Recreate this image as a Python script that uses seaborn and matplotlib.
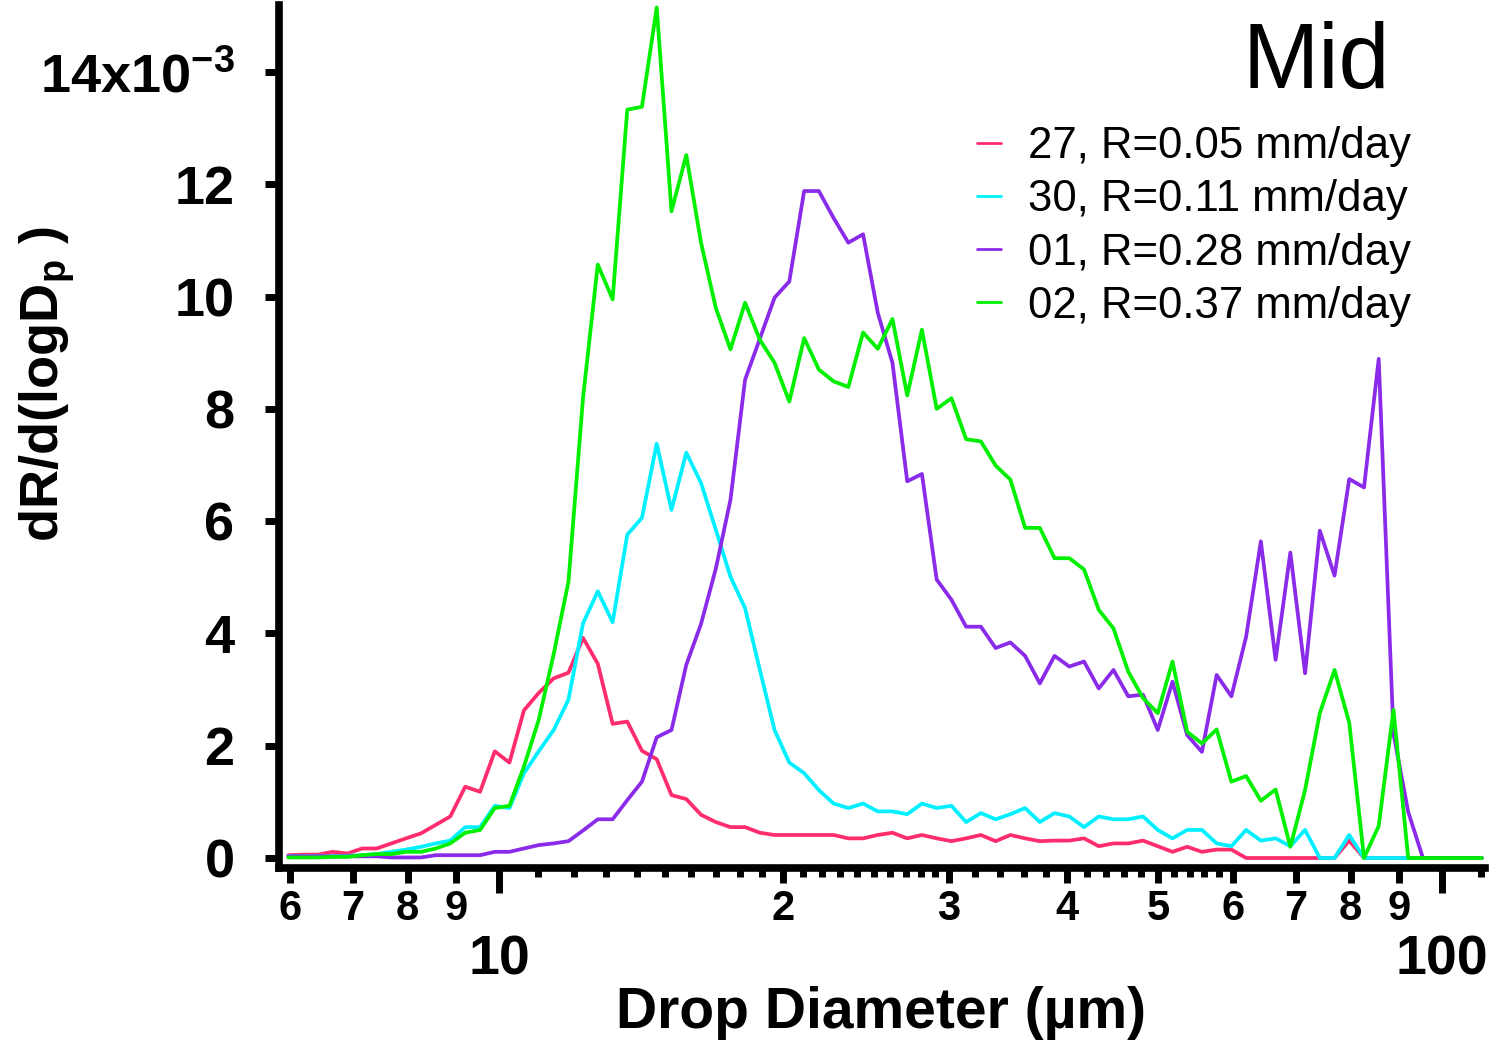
import numpy as np
import pandas as pd
import matplotlib
matplotlib.use("Agg")
import matplotlib.pyplot as plt
import seaborn as sns
from matplotlib.lines import Line2D
from matplotlib.ticker import FixedLocator, FixedFormatter, NullLocator

# ---------------- data (values in units of 1e-3) ----------------
diameter_um = [5.98, 6.20, 6.43, 6.66, 6.91, 7.16, 7.42, 7.69, 7.97, 8.27,
               8.57, 8.88, 9.21, 9.55, 9.90, 10.26, 10.63, 11.02, 11.43, 11.85,
               12.28, 12.73, 13.20, 13.68, 14.18, 14.70, 15.24, 15.80, 16.38, 16.98,
               17.60, 18.24, 18.91, 19.60, 20.32, 21.07, 21.84, 22.64, 23.47, 24.33,
               25.22, 26.14, 27.10, 28.09, 29.12, 30.19, 31.29, 32.44, 33.63, 34.86,
               36.14, 37.46, 38.83, 40.26, 41.73, 43.26, 44.84, 46.49, 48.19, 49.96,
               51.79, 53.68, 55.65, 57.69, 59.80, 61.99, 64.26, 66.62, 69.06, 71.59,
               74.21, 76.93, 79.74, 82.67, 85.69, 88.83, 92.09, 95.46, 98.96, 102.58,
               106.34, 110.24]

dR_27 = [0.05, 0.06, 0.06, 0.11, 0.08, 0.17, 0.17, 0.26, 0.35, 0.44,
         0.59, 0.74, 1.27, 1.18, 1.90, 1.70, 2.63, 2.94, 3.20, 3.30,
         3.92, 3.46, 2.39, 2.43, 1.91, 1.76, 1.12, 1.05, 0.77, 0.64,
         0.55, 0.55, 0.45, 0.41, 0.41, 0.41, 0.41, 0.41, 0.35, 0.35,
         0.41, 0.45, 0.35, 0.41, 0.35, 0.30, 0.35, 0.41, 0.30, 0.41,
         0.35, 0.30, 0.31, 0.31, 0.35, 0.21, 0.26, 0.26, 0.31, 0.21,
         0.11, 0.20, 0.11, 0.15, 0.15, 0.0, 0.0, 0.0, 0.0, 0.0,
         0.0, 0.0, 0.31, 0.0, 0.0, 0.0, 0.0, 0.0, 0.0, 0.0,
         0.0, 0.0]

dR_30 = [0.03, 0.03, 0.03, 0.03, 0.04, 0.05, 0.07, 0.11, 0.15, 0.20,
         0.26, 0.31, 0.55, 0.55, 0.93, 0.89, 1.51, 1.90, 2.28, 2.82,
         4.18, 4.75, 4.20, 5.76, 6.06, 7.38, 6.20, 7.22, 6.68, 5.85,
         5.01, 4.45, 3.35, 2.28, 1.70, 1.51, 1.21, 0.97, 0.89, 0.97,
         0.83, 0.83, 0.78, 0.97, 0.89, 0.93, 0.64, 0.80, 0.69, 0.78,
         0.89, 0.64, 0.80, 0.74, 0.55, 0.74, 0.69, 0.69, 0.74, 0.50,
         0.35, 0.50, 0.50, 0.26, 0.21, 0.50, 0.31, 0.35, 0.21, 0.50,
         0.0, 0.0, 0.41, 0.0, 0.0, 0.0, 0.0, 0.0, 0.0, 0.0,
         0.0, 0.0]

dR_01 = [0.03, 0.03, 0.03, 0.03, 0.03, 0.03, 0.03, 0.01, 0.01, 0.01,
         0.05, 0.05, 0.05, 0.05, 0.11, 0.11, 0.17, 0.23, 0.26, 0.30,
         0.49, 0.69, 0.69, 1.03, 1.36, 2.15, 2.28, 3.44, 4.17, 5.15,
         6.38, 8.52, 9.25, 9.98, 10.27, 11.88, 11.88, 11.40, 10.96, 11.11,
         9.71, 8.82, 6.71, 6.84, 4.96, 4.60, 4.12, 4.12, 3.74, 3.84,
         3.60, 3.11, 3.60, 3.41, 3.50, 3.02, 3.35, 2.88, 2.91, 2.28,
         3.14, 2.19, 1.89, 3.26, 2.88, 3.94, 5.64, 3.53, 5.44, 3.29,
         5.83, 5.03, 6.75, 6.60, 8.89, 2.22, 0.82, 0.0, 0.0, 0.0,
         0.0, 0.0]

dR_02 = [0.01, 0.01, 0.01, 0.02, 0.02, 0.05, 0.07, 0.07, 0.11, 0.11,
         0.17, 0.26, 0.45, 0.50, 0.89, 0.93, 1.63, 2.46, 3.63, 4.92,
         8.20, 10.57, 9.95, 13.33, 13.38, 15.15, 11.52, 12.52, 10.96, 9.80,
         9.06, 9.89, 9.23, 8.82, 8.13, 9.26, 8.70, 8.49, 8.39, 9.36,
         9.07, 9.60, 8.24, 9.41, 8.00, 8.19, 7.46, 7.42, 6.99, 6.74,
         5.88, 5.88, 5.34, 5.34, 5.14, 4.42, 4.09, 3.32, 2.85, 2.58,
         3.50, 2.25, 2.04, 2.29, 1.36, 1.46, 1.02, 1.22, 0.20, 1.21,
         2.58, 3.35, 2.41, 0.0, 0.57, 2.64, 0.0, 0.0, 0.0, 0.0,
         0.0, 0.0]

series_labels = ["27, R=0.05 mm/day", "30, R=0.11 mm/day",
                 "01, R=0.28 mm/day", "02, R=0.37 mm/day"]
series_colors = ["#FF2D6E", "#00F0FF", "#8B2BEA", "#00F000"]

y_ticks = [0, 2, 4, 6, 8, 10, 12, 14]
y_tick_labels = ["0", "2", "4", "6", "8", "10", "12", r"14x10$^{\mathbf{-3}}$"]
x_major = [10, 100]
x_major_labels = ["10", "100"]
x_minor = [6, 7, 8, 9, 20, 30, 40, 50, 60, 70, 80, 90]
x_minor_labels = ["6", "7", "8", "9", "2", "3", "4", "5", "6", "7", "8", "9"]
x_tiny = [11, 12, 13, 14, 15, 16, 17, 18, 19,
          21, 22, 23, 24, 25, 26, 27, 28, 29,
          32, 34, 36, 38, 42, 44, 46, 48, 52, 54, 56, 58, 110]

# ---------------- style ----------------
sns.set_style("ticks")
plt.rcParams["font.family"] = ["Liberation Sans", "DejaVu Sans"]
plt.rcParams["font.weight"] = "bold"
plt.rcParams["text.color"] = "black"
plt.rcParams["axes.labelcolor"] = "black"
plt.rcParams["xtick.color"] = "black"
plt.rcParams["ytick.color"] = "black"
plt.rcParams["mathtext.fontset"] = "custom"
plt.rcParams["mathtext.rm"] = "Liberation Sans:bold"
plt.rcParams["mathtext.bf"] = "Liberation Sans:bold"
plt.rcParams["mathtext.it"] = "Liberation Sans:bold"
plt.rcParams["axes.unicode_minus"] = False

W, H = 1501, 1045
fig = plt.figure(figsize=(W / 100, H / 100), dpi=100)
ax_left, ax_right, ax_top, ax_bottom = 279, 1484.7, 5.2, 868
ax = fig.add_axes([ax_left / W, 1 - ax_bottom / H,
                   (ax_right - ax_left) / W, (ax_bottom - ax_top) / H])

rows = []
for lab, vals in zip(series_labels, [dR_27, dR_30, dR_01, dR_02]):
    for d, v in zip(diameter_um, vals):
        rows.append((d, v, lab))
df = pd.DataFrame(rows, columns=["D", "dR", "series"])

sns.lineplot(data=df, x="D", y="dR", hue="series", hue_order=series_labels,
             palette=dict(zip(series_labels, series_colors)), linewidth=2.7,
             estimator=None, sort=False, legend=False, ax=ax)

ax.set_xscale("log")
ax.set_xlim(5.845, 111.0)
ax.set_ylim(-0.178, 15.19)
ax.set_xlabel("")
ax.set_ylabel("")

for s in ["top", "right"]:
    ax.spines[s].set_visible(False)
for s in ["left", "bottom"]:
    ax.spines[s].set_linewidth(5.5)
    ax.spines[s].set_color("black")

ax.xaxis.set_major_locator(FixedLocator(x_major))
ax.xaxis.set_major_formatter(FixedFormatter(x_major_labels))
ax.xaxis.set_minor_locator(FixedLocator(x_minor))
ax.xaxis.set_minor_formatter(FixedFormatter(x_minor_labels))
ax.tick_params(axis="x", which="major", direction="out", length=18, width=5,
               pad=30, labelsize=40, color="black", labelcolor="black")
ax.tick_params(axis="x", which="minor", direction="out", length=11, width=5,
               pad=4, labelsize=30, color="black", labelcolor="black")

ax.set_yticks(y_ticks)
ax.set_yticklabels(y_tick_labels)
ax.yaxis.set_minor_locator(NullLocator())
ax.tick_params(axis="y", which="major", direction="out", length=10, width=5,
               pad=22, labelsize=39, color="black", labelcolor="black")

sec = ax.secondary_xaxis("bottom")
sec.xaxis.set_major_locator(FixedLocator(x_tiny))
sec.xaxis.set_minor_locator(NullLocator())
sec.tick_params(axis="x", which="major", direction="out", length=6.5, width=5,
                labelbottom=False, color="black")
for s in sec.spines.values():
    s.set_visible(False)

handles = [Line2D([], [], color=c, lw=2.0) for c in series_colors]
ax.legend(handles, series_labels, loc="upper left",
          bbox_to_anchor=(977 / W, 1 - 126 / H), bbox_transform=fig.transFigure,
          frameon=False, prop={"size": 31.5, "weight": "normal"},
          handlelength=0.55, handletextpad=0.62, labelspacing=0.28,
          borderpad=0, borderaxespad=0, labelcolor="black")

fig.text(1390 / W, 1 - 88 / H, "Mid", fontsize=66, fontweight="normal",
         ha="right", va="baseline", color="black")
fig.text(47 / W, 1 - 384 / H, r"dR/d(logD$_{\mathbf{p}}$ )", rotation=90,
         fontsize=39, fontweight="bold", ha="center", va="center", color="black")
fig.text(881 / W, 1 - 1028 / H, "Drop Diameter (µm)", fontsize=41,
         fontweight="bold", ha="center", va="baseline", color="black")

fig.savefig("out.png", dpi=100, facecolor="white")
